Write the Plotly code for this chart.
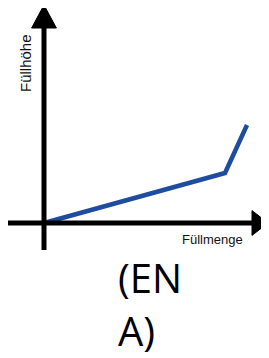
import plotly.graph_objects as go

# Data (arbitrary units)
fuellmenge = [0, 9.05, 10.15]
fuellhoehe = [0, 2.5, 4.9]

x_label = "Füllmenge"
y_label = "Füllhöhe"
caption_lines = ["(EN", "A)"]

# page body has an 8px margin; figure sized to fill the rest of the window
OFF = 8
W, H = 269 - OFF, 358 - OFF


def px(xp):
    return (xp - OFF) / W


def py(yp):
    return 1 - (yp - OFF) / H


fig = go.Figure()
fig.add_trace(go.Scatter(
    x=fuellmenge, y=fuellhoehe, mode="lines",
    line=dict(color="#1E4C9E", width=4.5),
    hoverinfo="skip", showlegend=False,
))

ax_w = 5
shapes = [
    # y axis
    dict(type="line", x0=0, x1=0, y0=-1.35, y1=9.9, line=dict(color="black", width=ax_w)),
    dict(type="path", path="M -0.62 9.75 L 0.62 9.75 L 0 10.9 Z",
         fillcolor="black", line=dict(color="black", width=1)),
    # x axis
    dict(type="line", x0=-2.0, x1=10.5, y0=0, y1=0, line=dict(color="black", width=ax_w)),
    dict(type="path", path="M 10.4 -0.62 L 10.4 0.62 L 11.2 0 Z",
         fillcolor="black", line=dict(color="black", width=1)),
]

cap_font = dict(family="Open Sans", size=40, color="black")
annotations = [
    dict(text=y_label, xref="paper", yref="paper", x=px(25), y=py(63),
         textangle=-90, showarrow=False, font=dict(family="Liberation Sans, Arial", size=15, color="#111"),
         xanchor="center", yanchor="middle"),
    dict(text=x_label, xref="paper", yref="paper", x=px(212), y=py(240),
         showarrow=False, font=dict(family="Liberation Sans, Arial", size=13, color="#111"),
         xanchor="center", yanchor="middle"),
    dict(text=caption_lines[0], xref="paper", yref="paper", x=px(116), y=py(277),
         showarrow=False, font=cap_font, xanchor="left", yanchor="middle"),
    dict(text=caption_lines[1], xref="paper", yref="paper", x=px(118), y=0,
         showarrow=False, font=cap_font, xanchor="left", yanchor="bottom",
         borderpad=0, borderwidth=0),
]

fig.update_layout(
    width=W, height=H,
    margin=dict(l=0, r=0, t=0, b=0),
    paper_bgcolor="white", plot_bgcolor="white",
    xaxis=dict(range=[-36 / 20, (W - 36) / 20], visible=False, fixedrange=True),
    yaxis=dict(range=[(215 - H) / 20, 215 / 20], visible=False, fixedrange=True),
    shapes=shapes, annotations=annotations,
)

fig.write_html("out.html", config={"displayModeBar": False})
